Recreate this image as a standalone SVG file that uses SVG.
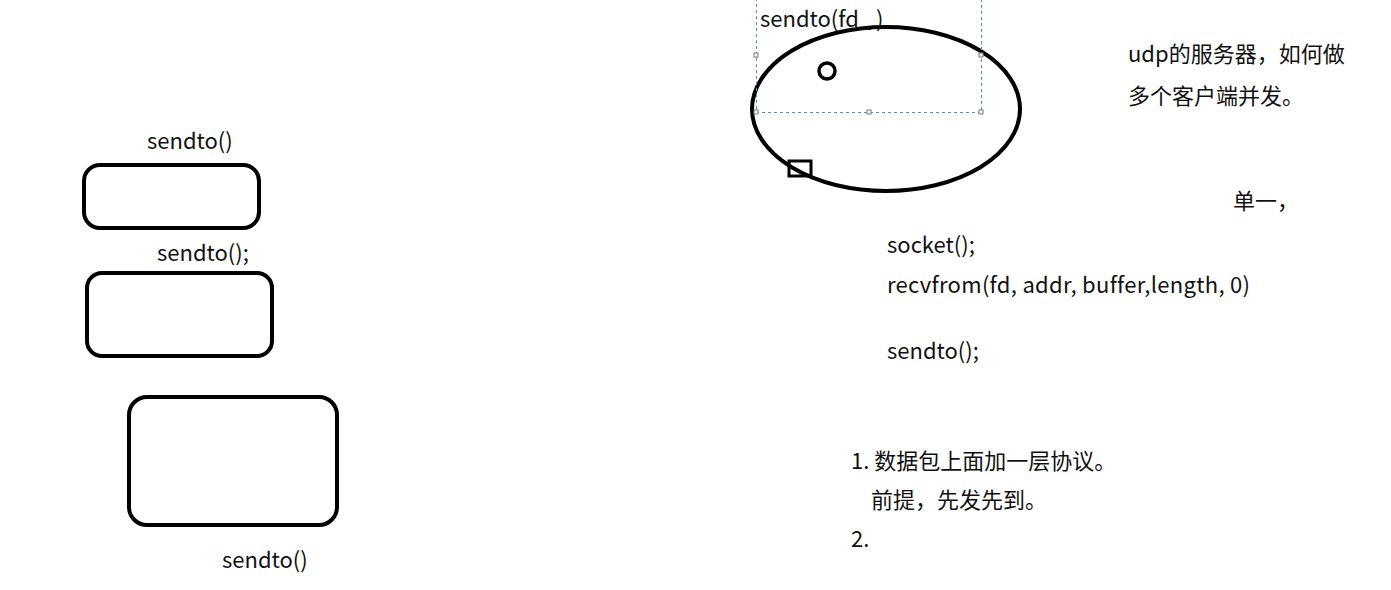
<svg xmlns="http://www.w3.org/2000/svg" width="1391" height="590" viewBox="0 0 1391 590">
<style>
.t{font-family:"Noto Sans CJK SC","Noto Sans",sans-serif;font-size:22px;fill:#111;font-variant-ligatures:none}
.box{fill:none;stroke:#000;stroke-width:4}
.sel{fill:none;stroke:#4a90d9;stroke-width:1;stroke-dasharray:3,3}
.h{fill:#fff;stroke:#777;stroke-width:1}
</style>
<rect width="1391" height="590" fill="#fff"/>
<g id="box1"><rect class="box" x="84" y="165" width="175" height="63" rx="16"/><text class="t" x="147" y="149">sendto()</text></g>
<g id="box2"><rect class="box" x="87" y="273" width="185" height="83" rx="15"/><text class="t" x="157" y="261">sendto();</text></g>
<g id="box3"><rect class="box" x="129" y="397" width="208" height="128" rx="18"/><text class="t" x="222" y="568">sendto()</text></g>
<g id="ellipse">
<ellipse class="box" cx="886" cy="109" rx="134" ry="82"/>
<circle cx="827" cy="71" r="8" fill="none" stroke="#000" stroke-width="3.5"/>
<rect x="789" y="161" width="22" height="15" fill="none" stroke="#000" stroke-width="3"/>
</g>
<g id="selection">
<rect class="sel" x="756.5" y="-10" width="225" height="122.5"/>
<rect class="h" x="754" y="53" width="4" height="4"/>
<rect class="h" x="979" y="53" width="4" height="4"/>
<rect class="h" x="754" y="110" width="4" height="4"/>
<rect class="h" x="867" y="110" width="4" height="4"/>
<rect class="h" x="979" y="110" width="4" height="4"/>
<text class="t" x="760" y="27">sendto(fd_ )</text>
</g>
<g id="notes">
<text class="t" x="1128" y="62">udp的服务器，如何做</text>
<text class="t" x="1128" y="104">多个客户端并发。</text>
<text class="t" x="1233" y="209">单一，</text>
<text class="t" x="887" y="253">socket();</text>
<text class="t" x="887" y="293" textLength="363" lengthAdjust="spacing">recvfrom(fd, addr, buffer,length, 0)</text>
<text class="t" x="887" y="359">sendto();</text>
<text class="t" x="851" y="469">1. 数据包上面加一层协议。</text>
<text class="t" x="871" y="508">前提，先发先到。</text>
<text class="t" x="851" y="547">2.</text>
</g>
</svg>
